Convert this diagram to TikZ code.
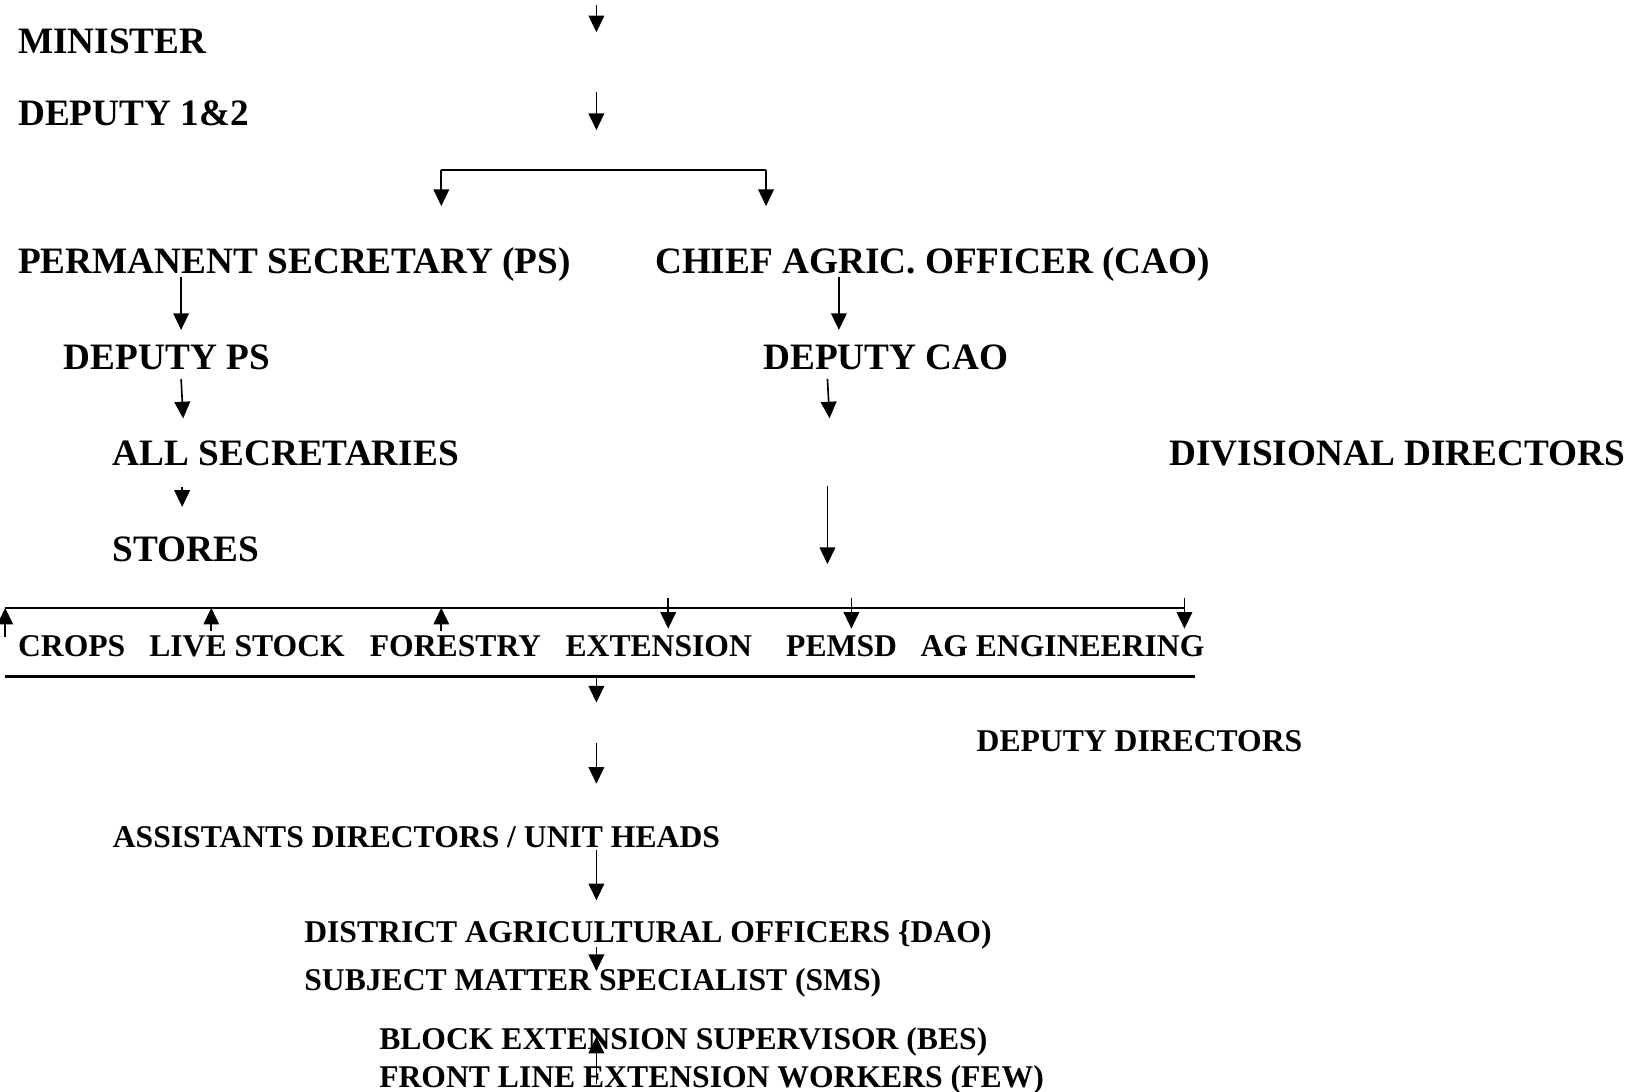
\documentclass[tikz,border=0pt]{standalone}
\usepackage{fontspec}
\setmainfont{Liberation Serif}
\usetikzlibrary{arrows.meta}
\tikzset{
rank/.style={
  anchor=base west,
  inner sep=0pt,
  font=\fontsize{17.9}{20}\selectfont\bfseries
},
subrank/.style={
  anchor=base west,
  inner sep=0pt,
  font=\fontsize{15.2}{17}\selectfont\bfseries
},
arr/.style={
  -{Triangle[length=8pt,width=7.5pt]},
  line width=0.8pt
},
barline/.style={
  line width=1pt
}
}

\begin{document}
\begin{tikzpicture}[x=0.5pt,y=-0.5pt]
  \useasboundingbox (0,0) rectangle (1568,1049);

  % ministry side
  \node[rank] (minister) at (17,51) {MINISTER};
  \node[rank] (deputy)   at (17,121) {DEPUTY 1\&2};
  \node[rank] (ps)       at (17,263) {PERMANENT SECRETARY (PS)};
  \node[rank] (cao)      at (629,263) {CHIEF AGRIC. OFFICER (CAO)};
  \node[rank] (dps)      at (61,355) {DEPUTY PS};
  \node[rank] (dcao)     at (733,355) {DEPUTY CAO};
  \node[rank] (allsec)   at (108,447) {ALL SECRETARIES};
  \node[rank] (divdir)   at (1123,447) {DIVISIONAL DIRECTORS};
  \node[rank] (stores)   at (108,539) {STORES};

  % divisions
  \node[subrank] (crops)  at (17,631) {CROPS};
  \node[subrank] (live)   at (143,631) {LIVE STOCK};
  \node[subrank] (forest) at (355,631) {FORESTRY};
  \node[subrank] (ext)    at (543,631) {EXTENSION};
  \node[subrank] (pemsd)  at (755,631) {PEMSD};
  \node[subrank] (ageng)  at (884,631) {AG ENGINEERING};

  % field levels
  \node[subrank] (depdir) at (938,722) {DEPUTY DIRECTORS};
  \node[subrank] (asst)   at (108,814) {ASSISTANTS DIRECTORS / UNIT HEADS};
  \node[subrank] (dao)    at (292,906) {DISTRICT AGRICULTURAL OFFICERS \{DAO)};
  \node[subrank] (sms)    at (292,952) {SUBJECT MATTER SPECIALIST (SMS)};
  \node[subrank] (bes)    at (364,1008) {BLOCK EXTENSION SUPERVISOR (BES)};
  \node[subrank] (few)    at (364,1045) {FRONT LINE EXTENSION WORKERS (FEW)};

  % arrow ends
  \coordinate (a1) at (573,5);    \coordinate (a1e) at (573,31);
  \coordinate (a2) at (573,88);   \coordinate (a2e) at (573,125);
  \coordinate (bl) at (424,163);  \coordinate (ble) at (424,198);
  \coordinate (br) at (736,163);  \coordinate (bre) at (736,198);
  \coordinate (p1) at (174,266);  \coordinate (p1e) at (174,317);
  \coordinate (c1) at (806,266);  \coordinate (c1e) at (806,317);
  \coordinate (p2) at (174,364);  \coordinate (p2e) at (176,402);
  \coordinate (c2) at (795,364);  \coordinate (c2e) at (797,402);
  \coordinate (p3) at (175,468);  \coordinate (p3e) at (175,487);
  \coordinate (c3) at (795,467);  \coordinate (c3e) at (795,542);
  \coordinate (topl) at (5,584);  \coordinate (topr) at (1138,584);
  \coordinate (botl) at (5,650);  \coordinate (botr) at (1148,650);
  \coordinate (d1) at (573,650);  \coordinate (d1e) at (573,675);
  \coordinate (d2) at (573,714);  \coordinate (d2e) at (573,753);
  \coordinate (d3) at (573,817);  \coordinate (d3e) at (573,865);
  \coordinate (d4) at (573,910);  \coordinate (d4e) at (573,933);
  \coordinate (d5) at (573,1041); \coordinate (d5e) at (573,996);

  \draw[arr] (a1) -- (a1e);
  \draw[arr] (a2) -- (a2e);
  \draw[barline] (bl) -- (br);
  \draw[arr] (bl) -- (ble);
  \draw[arr] (br) -- (bre);
  \draw[arr] (p1) -- (p1e);
  \draw[arr] (c1) -- (c1e);
  \draw[arr] (p2) -- (p2e);
  \draw[arr] (c2) -- (c2e);
  \draw[arr] (p3) -- (p3e);
  \draw[arr] (c3) -- (c3e);

  % division bar
  \draw[barline] (topl) -- (topr);
  \draw[barline] (botl) -- (botr);
  \foreach \x/\y in {5/612, 203/606, 424/606}
    \draw[arr] (\x,\y) -- (\x,584);
  \foreach \x in {642, 818, 1138}
    \draw[arr] (\x,575) -- (\x,604);

  \draw[arr] (d1) -- (d1e);
  \draw[arr] (d2) -- (d2e);
  \draw[arr] (d3) -- (d3e);
  \draw[arr] (d4) -- (d4e);
  \draw[arr] (d5) -- (d5e);
\end{tikzpicture}
\end{document}
